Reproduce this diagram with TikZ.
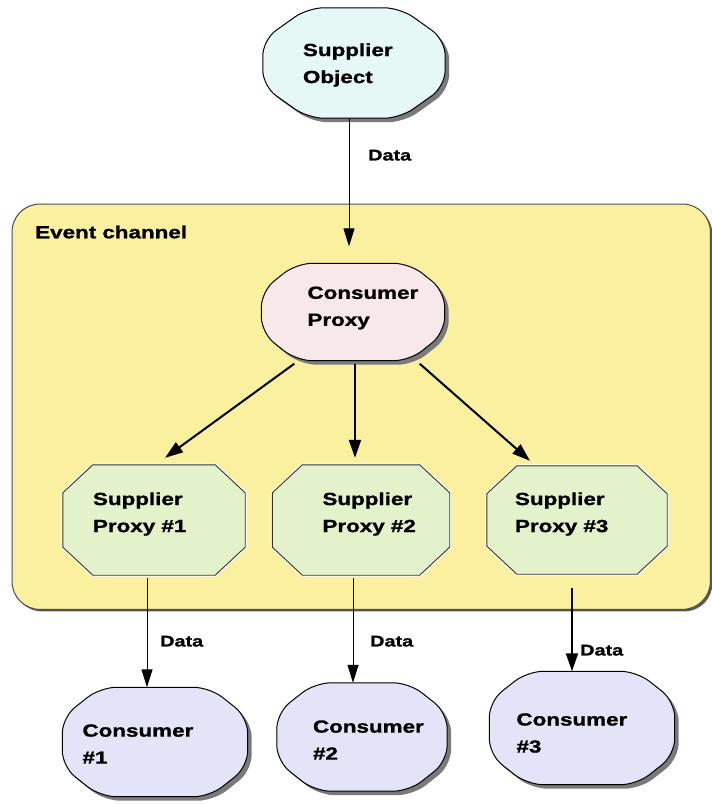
\documentclass[tikz,border=0pt]{standalone}
\usepackage{fontspec}
\setmainfont{Liberation Sans}
\newfontfamily\lblfont{Liberation Sans Bold}[FakeStretch=1.28,FakeBold=1.2]
\usetikzlibrary{calc,arrows.meta}
\definecolor{chan}{HTML}{FAF0A0}
\definecolor{sofill}{HTML}{E6F8F5}
\definecolor{cpfill}{HTML}{F9E8EA}
\definecolor{spfill}{HTML}{E4F2CC}
\definecolor{cfill}{HTML}{E4E4F8}
\definecolor{shadowc}{HTML}{7A7A7A}
\newcommand\octo[3]{($(#1.north west)+(#2,0)$) -- ($(#1.north east)+(-#2,0)$) -- ($(#1.north east)+(0,#3)$) -- ($(#1.south east)+(0,-#3)$) -- ($(#1.south east)+(-#2,0)$) -- ($(#1.south west)+(#2,0)$) -- ($(#1.south west)+(0,-#3)$) -- ($(#1.north west)+(0,#3)$) -- cycle}
\tikzset{
  box/.style={shape=rectangle, draw=none, inner sep=0pt},
  txt/.style={anchor=west, align=left, inner sep=0pt, font=\lblfont\fontsize{17.5}{27}\selectfont},
  datalbl/.style={anchor=west, inner sep=0pt, font=\lblfont\fontsize{15.5}{18}\selectfont},
  thinarrow/.style={line width=1pt, -{Triangle[length=18pt,width=11pt]}},
  thickarrow/.style={line width=2pt, -{Triangle[length=18pt,width=12pt]}},
  cloud/.style={draw=black, line width=1pt, rounded corners=16pt},
  cshadow/.style={fill=shadowc, rounded corners=16pt},
}
\begin{document}
\begin{tikzpicture}[x=1pt,y=-1pt]
\useasboundingbox (0,0) rectangle (712,804);
% invisible shape frames
\node[box, minimum width=698pt, minimum height=405pt, anchor=north west] (ec) at (12,204) {};
\node[box, minimum width=182pt, minimum height=110pt] (so) at (354,63) {};
\node[box, minimum width=183pt, minimum height=97pt] (cp) at (353,312) {};
\node[box, minimum width=182pt, minimum height=110pt] (sp1) at (154,520) {};
\node[box, minimum width=177pt, minimum height=110pt] (sp2) at (361,520) {};
\node[box, minimum width=180pt, minimum height=108pt] (sp3) at (577,520) {};
\node[box, minimum width=185pt, minimum height=109pt] (c1) at (155,742) {};
\node[box, minimum width=170pt, minimum height=108pt] (c2) at (362,737) {};
\node[box, minimum width=185pt, minimum height=113pt] (c3) at (582,728) {};
% event channel
\begin{scope}[transform canvas={xshift=2pt,yshift=-2pt}]
\fill[gray!70!black, rounded corners=28pt] (ec.north west) rectangle (ec.south east);
\end{scope}
\draw[fill=chan, draw=gray!60!black, line width=1pt, rounded corners=28pt] (ec.north west) rectangle (ec.south east);
% shadows
\begin{scope}[transform canvas={xshift=4pt,yshift=-4pt}]
\fill[cshadow] \octo{so}{45}{32};
\fill[cshadow] \octo{cp}{35}{28};
\fill[cshadow] \octo{c1}{38}{30};
\fill[cshadow] \octo{c2}{38}{30};
\fill[cshadow] \octo{c3}{38}{30};
\end{scope}
% clouds
\draw[cloud, fill=sofill] \octo{so}{45}{32};
\draw[cloud, fill=cpfill] \octo{cp}{35}{28};
\draw[cloud, fill=cfill] \octo{c1}{38}{30};
\draw[cloud, fill=cfill] \octo{c2}{38}{30};
\draw[cloud, fill=cfill] \octo{c3}{38}{30};
% supplier proxies
\foreach \n in {sp1,sp2,sp3}{
  \draw[white, line width=3pt] \octo{\n}{30}{28};
  \draw[fill=spfill, draw=black!80, line width=0.9pt] \octo{\n}{30}{28};
}
% texts
\node[txt] (eclabel) at ($(ec.north west)+(23,28)$) {Event channel};
\node[txt] (sotxt) at ($(so.west)+(40,2)$) {Supplier\\Object};
\node[txt] (cptxt) at ($(cp.west)+(46,-4)$) {Consumer\\Proxy};
\node[txt] (sp1txt) at ($(sp1.west)+(30,-6)$) {Supplier\\Proxy \#1};
\node[txt] (sp2txt) at ($(sp2.west)+(50,-6)$) {Supplier\\Proxy \#2};
\node[txt] (sp3txt) at ($(sp3.west)+(28,-6)$) {Supplier\\Proxy \#3};
\node[txt] (c1txt) at ($(c1.west)+(20,2)$) {Consumer\\\#1};
\node[txt] (c2txt) at ($(c2.west)+(36,3)$) {Consumer\\\#2};
\node[txt] (c3txt) at ($(c3.west)+(27,5)$) {Consumer\\\#3};
% connectors
\draw[thinarrow] ($(so.south)+(-5,0)$) -- ($(cp.north)+(-4,-17)$);
\node[datalbl] (dso) at ($(so.south)+(14,37)$) {Data};
\draw[thickarrow] ($(cp.south west)+(33,3)$) -- ($(sp1.north)+(11,-7)$);
\draw[thickarrow] ($(cp.south)+(2,3)$) -- ($(sp2.north)+(-6,-7)$);
\draw[thickarrow] ($(cp.south east)+(-25,3)$) -- ($(sp3.north)+(-47,-5)$);
\draw[thinarrow] ($(sp1.south)+(-7,3)$) -- ($(c1.north)+(-8,0)$);
\node[datalbl] (d1) at ($(sp1.south)+(6,66)$) {Data};
\draw[thinarrow] ($(sp2.south)+(-8,3)$) -- ($(c2.north)+(-9,0)$);
\node[datalbl] (d2) at ($(sp2.south)+(9,66)$) {Data};
\draw[thickarrow] ($(sp3.south)+(-5,14)$) -- ($(c3.north)+(-10,0)$);
\node[datalbl] (d3) at ($(sp3.south)+(3,76)$) {Data};
\end{tikzpicture}
\end{document}
